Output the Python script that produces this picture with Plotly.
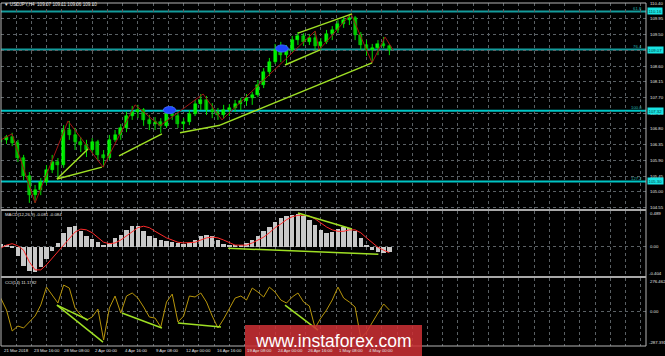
import plotly.graph_objects as go

# ---------------- data ----------------
date_labels = ["21 Mar 2018", "23 Mar 16:00", "28 Mar 08:00", "2 Apr 00:00", "4 Apr 16:00",
               "9 Apr 08:00", "12 Apr 00:00", "16 Apr 16:00", "19 Apr 08:00", "24 Apr 00:00",
               "26 Apr 16:00", "1 May 08:00", "4 May 00:00"]
BARS_PER_LABEL = 16      # H4 bars between two date labels
BARS_PER_GRID = 8
BARS_PER_CANDLE = 3      # each drawn candle covers 3 H4 bars

opens = [106.43, 106.49, 106.57, 106.40, 105.97, 105.46, 104.91, 105.06, 105.29, 105.63,
         105.86, 105.77, 106.77, 106.63, 106.43, 106.34, 106.20, 106.43, 106.06, 105.97,
         106.49, 106.63, 106.83, 107.17, 107.29, 107.34, 107.06, 106.94, 107.00, 106.89,
         107.23, 107.17, 106.94, 107.00, 107.23, 107.51, 107.63, 107.34, 107.29, 107.20,
         107.34, 107.40, 107.51, 107.60, 107.69, 107.77, 108.06, 108.43, 108.71, 109.06,
         108.91, 109.06, 109.34, 109.46, 109.29, 109.40, 109.17, 109.29, 109.51, 109.63,
         109.80, 109.91, 109.97, 109.49, 109.20, 109.06, 109.11, 109.23, 109.17]
highs = [106.57, 106.63, 106.69, 106.49, 106.06, 105.57, 105.20, 105.40, 105.77, 106.06,
         105.97, 106.91, 107.03, 106.83, 106.57, 106.49, 106.54, 106.49, 106.20, 106.63,
         106.77, 106.94, 107.29, 107.46, 107.49, 107.40, 107.20, 107.14, 107.11, 107.40,
         107.46, 107.26, 107.11, 107.34, 107.63, 107.80, 107.74, 107.54, 107.40, 107.49,
         107.51, 107.63, 107.69, 107.80, 107.86, 108.20, 108.54, 108.83, 109.23, 109.29,
         109.20, 109.46, 109.57, 109.54, 109.51, 109.60, 109.40, 109.63, 109.74, 109.91,
         110.00, 110.09, 110.03, 109.57, 109.34, 109.23, 109.34, 109.43, 109.23]
lows = [106.29, 106.37, 106.31, 105.86, 105.34, 104.69, 104.69, 104.91, 105.20, 105.54,
        105.37, 105.69, 106.49, 106.20, 106.14, 106.00, 106.11, 105.91, 105.71, 105.91,
        106.43, 106.49, 106.71, 107.06, 107.11, 106.89, 106.77, 106.77, 106.69, 106.83,
        107.06, 106.83, 106.77, 106.91, 107.17, 107.34, 107.20, 107.11, 107.06, 107.09,
        107.17, 107.29, 107.34, 107.46, 107.49, 107.71, 107.97, 108.31, 108.66, 108.71,
        108.63, 109.00, 109.20, 109.17, 109.20, 109.06, 109.06, 109.23, 109.34, 109.54,
        109.69, 109.77, 109.34, 109.06, 108.89, 108.69, 108.91, 109.11, 108.91]
closes = [106.49, 106.57, 106.40, 105.97, 105.46, 104.91, 105.06, 105.29, 105.63, 105.86,
          105.77, 106.77, 106.63, 106.43, 106.34, 106.20, 106.43, 106.06, 105.97, 106.49,
          106.63, 106.83, 107.17, 107.29, 107.34, 107.06, 106.94, 107.00, 106.89, 107.23,
          107.17, 106.94, 107.00, 107.23, 107.51, 107.63, 107.34, 107.29, 107.20, 107.34,
          107.40, 107.51, 107.60, 107.69, 107.77, 108.06, 108.43, 108.71, 109.06, 108.91,
          109.06, 109.34, 109.46, 109.29, 109.40, 109.17, 109.29, 109.51, 109.63, 109.80,
          109.91, 109.97, 109.49, 109.20, 109.06, 109.11, 109.23, 109.17, 109.07]

macd_hist = [0.036, 0.02, -0.02, -0.13, -0.27, -0.34, -0.35, -0.28, -0.17, -0.06,
             0.05, 0.19, 0.27, 0.28, 0.21, 0.15, 0.10, 0.06, 0.02, 0.05,
             0.12, 0.16, 0.23, 0.28, 0.28, 0.21, 0.15, 0.12, 0.09, 0.08,
             0.06, 0.05, 0.04, 0.05, 0.09, 0.15, 0.16, 0.15, 0.09, 0.04,
             0.01, 0.01, 0.02, 0.05, 0.09, 0.15, 0.21, 0.27, 0.34, 0.39,
             0.42, 0.43, 0.45, 0.42, 0.37, 0.30, 0.23, 0.19, 0.20, 0.24,
             0.27, 0.26, 0.21, 0.12, 0.02, -0.05, -0.07, -0.09, -0.081]
macd_signal = [-0.02, 0.02, 0.04, 0.01, -0.05, -0.21, -0.32, -0.32, -0.25, -0.16,
               -0.07, 0.02, 0.12, 0.20, 0.24, 0.23, 0.19, 0.13, 0.06, 0.04,
               0.05, 0.09, 0.15, 0.21, 0.26, 0.28, 0.26, 0.21, 0.16, 0.12,
               0.09, 0.06, 0.05, 0.05, 0.06, 0.09, 0.12, 0.13, 0.12, 0.09,
               0.05, 0.02, 0.02, 0.02, 0.05, 0.09, 0.13, 0.19, 0.26, 0.31,
               0.37, 0.41, 0.43, 0.43, 0.42, 0.38, 0.32, 0.27, 0.23, 0.21,
               0.21, 0.23, 0.23, 0.19, 0.12, 0.05, -0.01, -0.05, -0.084]
cci = [110, 11, -163, -122, -138, -89, -39, 52, 201, 135,
       69, 218, 193, 27, -31, -72, -47, 19, -238, 27,
       127, -14, 127, 152, 110, 36, -47, -56, -130, 77,
       143, -89, -39, 127, 119, 152, 77, -39, -138, -64,
       27, 110, 127, 94, 193, 160, 119, 201, 160, 94,
       69, 119, 152, 77, 44, -138, -56, 11, 94, 201,
       110, 77, 36, -221, -172, -89, -14, 61, 11.18]

price_ticks = [110.40, 109.95, 109.50, 109.05, 108.60, 108.15, 107.70, 107.25,
               106.80, 106.35, 105.90, 105.45, 105.00, 104.55]
price_hidden = [109.05]
fib_levels = [110.16, 109.07, 107.32, 105.30]
fib_names = ["61.8", "76.4", "100.0", "127.2"]

zigzag_bar = [0.2, 5.9, 18.0, 35.3, 53.7, 70.5, 83.6, 106.2, 116.1, 165.0, 167.1, 183.9, 194.9, 201.7, 205.9]
zigzag_price = [106.49, 106.66, 104.69, 107.03, 105.71, 107.49, 106.89, 107.80, 107.06,
                109.60, 109.06, 110.09, 108.69, 109.43, 109.06]

# trend lines: (bar0, value0, bar1, value1)
price_lines = [(29.5, 105.37, 45.8, 106.23), (29.5, 105.37, 53.1, 105.71),
               (62.1, 106.03, 84.6, 106.66), (94.1, 106.69, 115.1, 106.91),
               (115.1, 106.91, 194.9, 108.69), (156.0, 109.54, 184.4, 110.09),
               (149.2, 108.63, 167.6, 109.06)]
macd_lines = [(119.4, -0.023, 198.2, -0.106), (156.0, 0.462, 184.4, 0.242)]
cci_lines = [(29.5, 52, 45.8, -72), (29.5, 52, 53.7, -255), (63.6, -14, 84.6, -138),
             (93.0, -97, 115.6, -130), (149.2, 52, 166.5, -155)]

ellipse_bar = [88.6, 147.6]
ellipse_price = [107.34, 109.10]

# ---------------- layout constants ----------------
W, H = 665, 356
ML, MR, MT, MB = 1, 19, 3, 10
PH = H - MT - MB
PW = W - ML - MR
def pfrac(ypx):
    return (H - MB - ypx) / PH
def xfrac(xpx):
    return (xpx - ML) / PW

X_RANGE = [0.126, 338.7]
Y_MAIN = [104.514, 110.40]
Y_MACD = [-0.404, 0.489]
Y_CCI = [-287.391, 276.462]

TXT = "#e2e2e2"
FONT = "Liberation Sans, Arial, sans-serif"
FS = 4.3
GRID = "#5a6064"
LIME = "#9fe024"
BODY_W = 1.55
UP_COL, DN_COL = "#00ff00", "#00a800"

bars = [BARS_PER_CANDLE * i for i in range(len(closes))]

fig = go.Figure()

# wicks
wx, wy = [], []
for b, h, l in zip(bars, highs, lows):
    wx += [b, b, None]
    wy += [l, h, None]
fig.add_trace(go.Scatter(x=wx, y=wy, mode="lines", line=dict(color="#00e000", width=1),
                         xaxis="x", yaxis="y", showlegend=False, hoverinfo="skip"))
# bodies
body_base = [min(o, c) for o, c in zip(opens, closes)]
body_len = [max(abs(c - o), 0.012) for o, c in zip(opens, closes)]
body_col = [UP_COL if c >= o else DN_COL for o, c in zip(opens, closes)]
fig.add_trace(go.Bar(x=bars, y=body_len, base=body_base, width=BODY_W,
                     marker=dict(color=body_col, line=dict(color="#00ff00", width=0.5)),
                     xaxis="x", yaxis="y", showlegend=False, hoverinfo="skip"))

# zigzag
fig.add_trace(go.Scatter(x=zigzag_bar, y=zigzag_price, mode="lines",
                         line=dict(color="#a01414", width=1), xaxis="x", yaxis="y",
                         showlegend=False, hoverinfo="skip"))

# trend lines
def add_lines(lines, xa, ya):
    for (b0, v0, b1, v1) in lines:
        fig.add_trace(go.Scatter(x=[b0, b1], y=[v0, v1], mode="lines",
                                 line=dict(color=LIME, width=1.5), xaxis=xa, yaxis=ya,
                                 showlegend=False, hoverinfo="skip"))
add_lines(price_lines, "x", "y")

# MACD
fig.add_trace(go.Bar(x=bars, y=macd_hist, width=2.3, marker=dict(color="#c8c8c8", line=dict(width=0)),
                     xaxis="x2", yaxis="y2", showlegend=False, hoverinfo="skip"))
fig.add_trace(go.Scatter(x=bars, y=macd_signal, mode="lines", line=dict(color="#ff2a2a", width=1),
                         xaxis="x2", yaxis="y2", showlegend=False, hoverinfo="skip"))
add_lines(macd_lines, "x2", "y2")

# CCI
fig.add_trace(go.Scatter(x=bars, y=cci, mode="lines", line=dict(color="#b8960b", width=1),
                         xaxis="x3", yaxis="y3", showlegend=False, hoverinfo="skip"))
add_lines(cci_lines, "x3", "y3")

shapes = []
# fib lines
fib_colors = ["#149c9c", "#149c9c", "#00c4c4", "#00c4c4"]
for lv, col in zip(fib_levels, fib_colors):
    shapes.append(dict(type="line", xref="paper", yref="y", x0=0, x1=1, y0=lv, y1=lv,
                       line=dict(color=col, width=2), layer="below"))
# ellipses
EW, EH = 3.3, 0.10
for b, p in zip(ellipse_bar, ellipse_price):
    shapes.append(dict(type="circle", xref="x", yref="y", x0=b - EW, x1=b + EW, y0=p - EH, y1=p + EH,
                       fillcolor="#1e46ff", line=dict(color="#3c64ff", width=1), layer="above"))
# borders / separators
shapes.append(dict(type="rect", xref="paper", yref="paper", x0=0, x1=1, y0=0, y1=1,
                   line=dict(color="#b4b4b4", width=1)))
for ypx in (210, 277):
    shapes.append(dict(type="line", xref="paper", yref="paper", x0=0, x1=1, y0=pfrac(ypx), y1=pfrac(ypx),
                       line=dict(color="#a8a8a8", width=2)))
# watermark box
shapes.append(dict(type="rect", xref="paper", yref="paper",
                   x0=xfrac(245), x1=xfrac(422), y0=pfrac(356), y1=pfrac(325),
                   fillcolor="rgba(205,48,52,0.86)", line=dict(width=0), layer="above"))

ann = []
def txt(x, y, s, xref="paper", yref="paper", xanchor="left", color=TXT, size=FS, **kw):
    ann.append(dict(x=x, y=y, xref=xref, yref=yref, text=s, showarrow=False, xanchor=xanchor,
                    yanchor="middle", font=dict(family=FONT, size=size, color=color), **kw))

# price labels
for v in price_ticks:
    if v in price_hidden:
        continue
    txt(1, v, f"{v:.2f}", yref="y", xshift=1.5)
# fib boxes and names
for lv, nm in zip(fib_levels, fib_names):
    txt(1, lv, f"{lv:.2f}", yref="y", xshift=1, color="#003c3c", bgcolor="#19e3e3", borderpad=0.5)
    txt(xfrac(644), lv, nm, yref="y", xanchor="right", color="#24b4b4", yshift=3)

# MACD / CCI side labels
txt(1, pfrac(213.5), "0.489", xshift=1.5)
txt(1, 0.0, "0.00", yref="y2", xshift=1.5)
txt(1, pfrac(273), "-0.404", xshift=1)
txt(1, pfrac(281), "276.462", xshift=1.5)
txt(1, 0.0, "0.00", yref="y3", xshift=1.5)
txt(1, pfrac(342.5), "-287.391", xshift=0.5)

# titles
txt(xfrac(2), pfrac(5), "▼ USDJPY,H4  109.07 109.11 109.06 109.10", size=4.6)
txt(xfrac(3), pfrac(214.5), "MACD(12,26,9) -0.081 -0.084")
txt(xfrac(3), pfrac(282.5), "CCI(14) 11.1782")

# date labels
for i, lab in enumerate(date_labels):
    txt(max(i * BARS_PER_LABEL, 0.6), pfrac(350.5), lab, xref="x", xshift=0.5)

# watermark text
txt(xfrac(333.5), pfrac(340.5), "www.instaforex.com", xanchor="center", color="#ffffff", size=17.5)

grid_vals = list(range(0, 340, BARS_PER_GRID))
xcommon = dict(range=X_RANGE, showticklabels=False, tickvals=grid_vals, showgrid=True,
               gridcolor=GRID, griddash="dot", gridwidth=1, zeroline=False, showline=False, ticks="")
ycommon = dict(showticklabels=False, showgrid=True, gridcolor=GRID, griddash="dot", gridwidth=1,
               zeroline=False, showline=False, ticks="")

fig.update_layout(
    width=W, height=H, margin=dict(l=ML, r=MR, t=MT, b=MB),
    paper_bgcolor="#000000", plot_bgcolor="#000000",
    xaxis=dict(**xcommon, anchor="y"),
    xaxis2=dict(**xcommon, anchor="y2"),
    xaxis3=dict(**xcommon, anchor="y3"),
    yaxis=dict(**ycommon, domain=[pfrac(209), 1.0], range=Y_MAIN, tickvals=price_ticks),
    yaxis2=dict(**ycommon, domain=[pfrac(276), pfrac(211)], range=Y_MACD, tickvals=[0]),
    yaxis3=dict(**ycommon, domain=[0, pfrac(278)], range=Y_CCI, tickvals=[0]),
    shapes=shapes, annotations=ann, bargap=0, barmode="overlay", showlegend=False,
)

fig.write_html("out.html")
